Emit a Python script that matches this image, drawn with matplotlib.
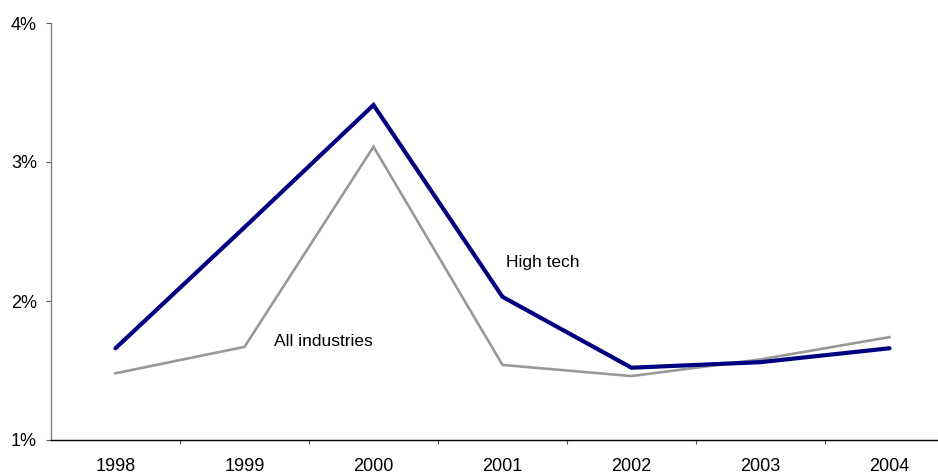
import matplotlib
matplotlib.use("Agg")
import matplotlib.pyplot as plt
from matplotlib.ticker import FixedLocator, FuncFormatter

plt.rcParams['font.family'] = ['Liberation Sans', 'DejaVu Sans']

years = ["1998", "1999", "2000", "2001", "2002", "2003", "2004"]
high_tech = [1.66, 2.53, 3.41, 2.03, 1.52, 1.56, 1.66]
all_industries = [1.48, 1.67, 3.11, 1.54, 1.46, 1.58, 1.74]

fig = plt.figure(figsize=(9.38, 4.75), dpi=100)
# axis runs a little past the right edge of the canvas
ax = fig.add_axes([51 / 938, 35 / 475, 903 / 938, 417 / 475])

x = list(range(len(years)))
ax.plot(x, all_industries, color="#999999", lw=1.9, solid_joinstyle="miter")
ax.plot(x, high_tech, color="#000080", lw=3.0, solid_capstyle="round",
        solid_joinstyle="miter")

ax.set_xlim(-0.5, len(years) - 0.5)
ax.set_ylim(1, 4)

ax.set_xticks(x)
ax.set_xticklabels(years)
ax.xaxis.set_minor_locator(FixedLocator([i + 0.5 for i in range(len(years))]))
ax.tick_params(axis="x", which="major", length=0, pad=13, labelsize=13)
ax.tick_params(axis="x", which="minor", length=3, width=0.8, color="#555555")

ax.set_yticks([1, 2, 3, 4])
ax.yaxis.set_major_formatter(FuncFormatter(lambda v, p: f"{v:.0f}%"))
ax.tick_params(axis="y", length=3.6, width=0.8, color="#555555", pad=6.5,
               labelsize=13)

for side in ["top", "right"]:
    ax.spines[side].set_visible(False)
ax.spines["left"].set_color("#808080")
ax.spines["left"].set_linewidth(1.0)
ax.spines["bottom"].set_color("black")
ax.spines["bottom"].set_linewidth(1.0)

ax.text(3.03, 2.28, "High tech", fontsize=12.5, va="center", ha="left")
ax.text(1.23, 1.71, "All industries", fontsize=12.5, va="center", ha="left")

fig.savefig("out.png", dpi=100)
